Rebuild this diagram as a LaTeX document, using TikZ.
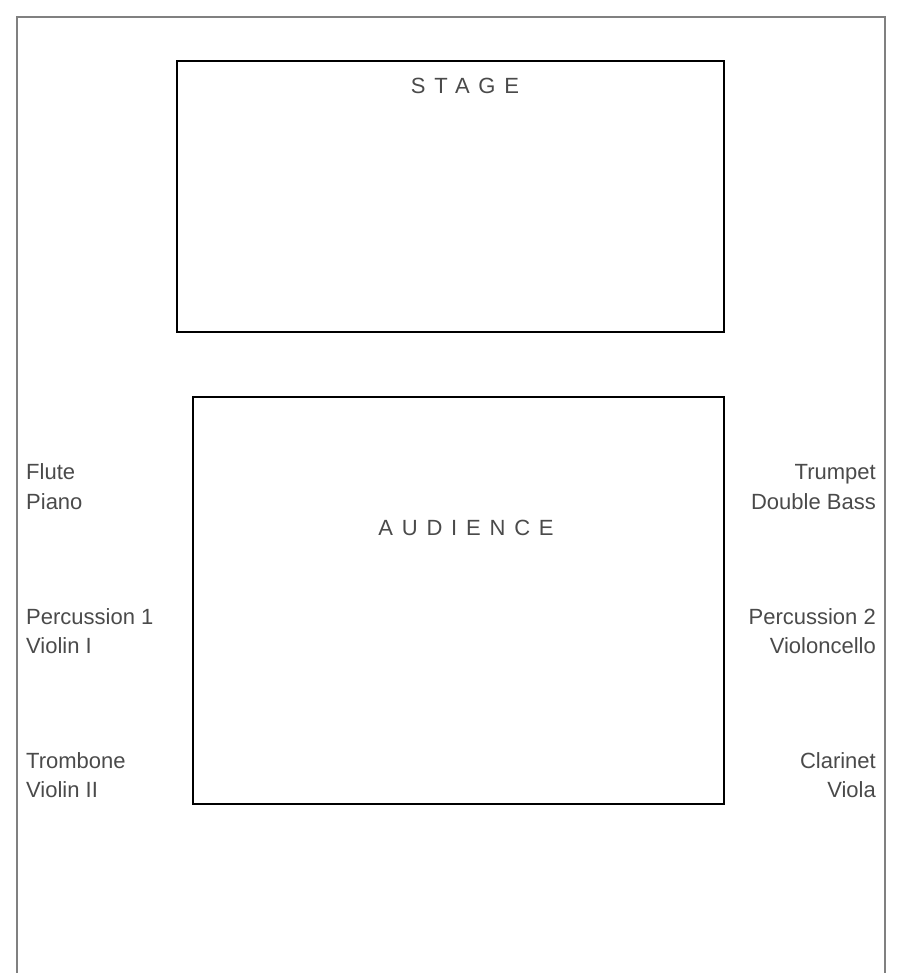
\documentclass[tikz,border=0pt]{standalone}
\usepackage{xcolor}
\usepackage{fontspec}
\setmainfont{Liberation Sans}
\newfontfamily\spacedfont[LetterSpace=40]{Liberation Sans}
\usepackage{tikz}
\usetikzlibrary{positioning}
\definecolor{textgrey}{HTML}{4A4A4A}
\definecolor{framegrey}{HTML}{808080}
\tikzset{
  room/.style = {draw, line width = 1.3pt, inner sep = 0pt},
  part/.style = {text = textgrey, inner sep = 0pt, font = \fontsize{22}{29}\selectfont},
  area/.style = {text = textgrey, inner sep = 0pt, font = \spacedfont\fontsize{22}{29}\selectfont, anchor = base}
}

\begin{document}
\begin{tikzpicture}[x=1pt,y=-1pt]
        \useasboundingbox (0,0) rectangle (898,973);
        \path [draw = framegrey, line width = 2pt] (17,973) -- (17,17) -- (885,17) -- (885,973);
        \node (stage) at (450.5,196.5) [room, minimum width = 547pt, minimum height = 271pt] {};
        \node (audience) at (458.5,600.5) [room, minimum width = 531pt, minimum height = 407pt] {};
        \node (stagetext) at (465,94) [area] {STAGE};
        \node (audiencetext) at (466,535) [area] {AUDIENCE};
        % left side
        \node (flute) at (26,479) [part, anchor = base west] {Flute};
        \node (piano) at (26,509) [part, anchor = base west] {Piano};
        \node (perca) at (26,624) [part, anchor = base west] {Percussion 1};
        \node (violina) at (26,653) [part, anchor = base west] {Violin I};
        \node (trombone) at (26,768) [part, anchor = base west] {Trombone};
        \node (violinb) at (26,797) [part, anchor = base west] {Violin II};
        % right side
        \node (trumpet) at (876,479) [part, anchor = base east] {Trumpet};
        \node (bass) at (876,509) [part, anchor = base east] {Double Bass};
        \node (percb) at (876,624) [part, anchor = base east] {Percussion 2};
        \node (cello) at (876,653) [part, anchor = base east] {Violoncello};
        \node (clarinet) at (876,768) [part, anchor = base east] {Clarinet};
        \node (viola) at (876,797) [part, anchor = base east] {Viola};
\end{tikzpicture}
\end{document}
